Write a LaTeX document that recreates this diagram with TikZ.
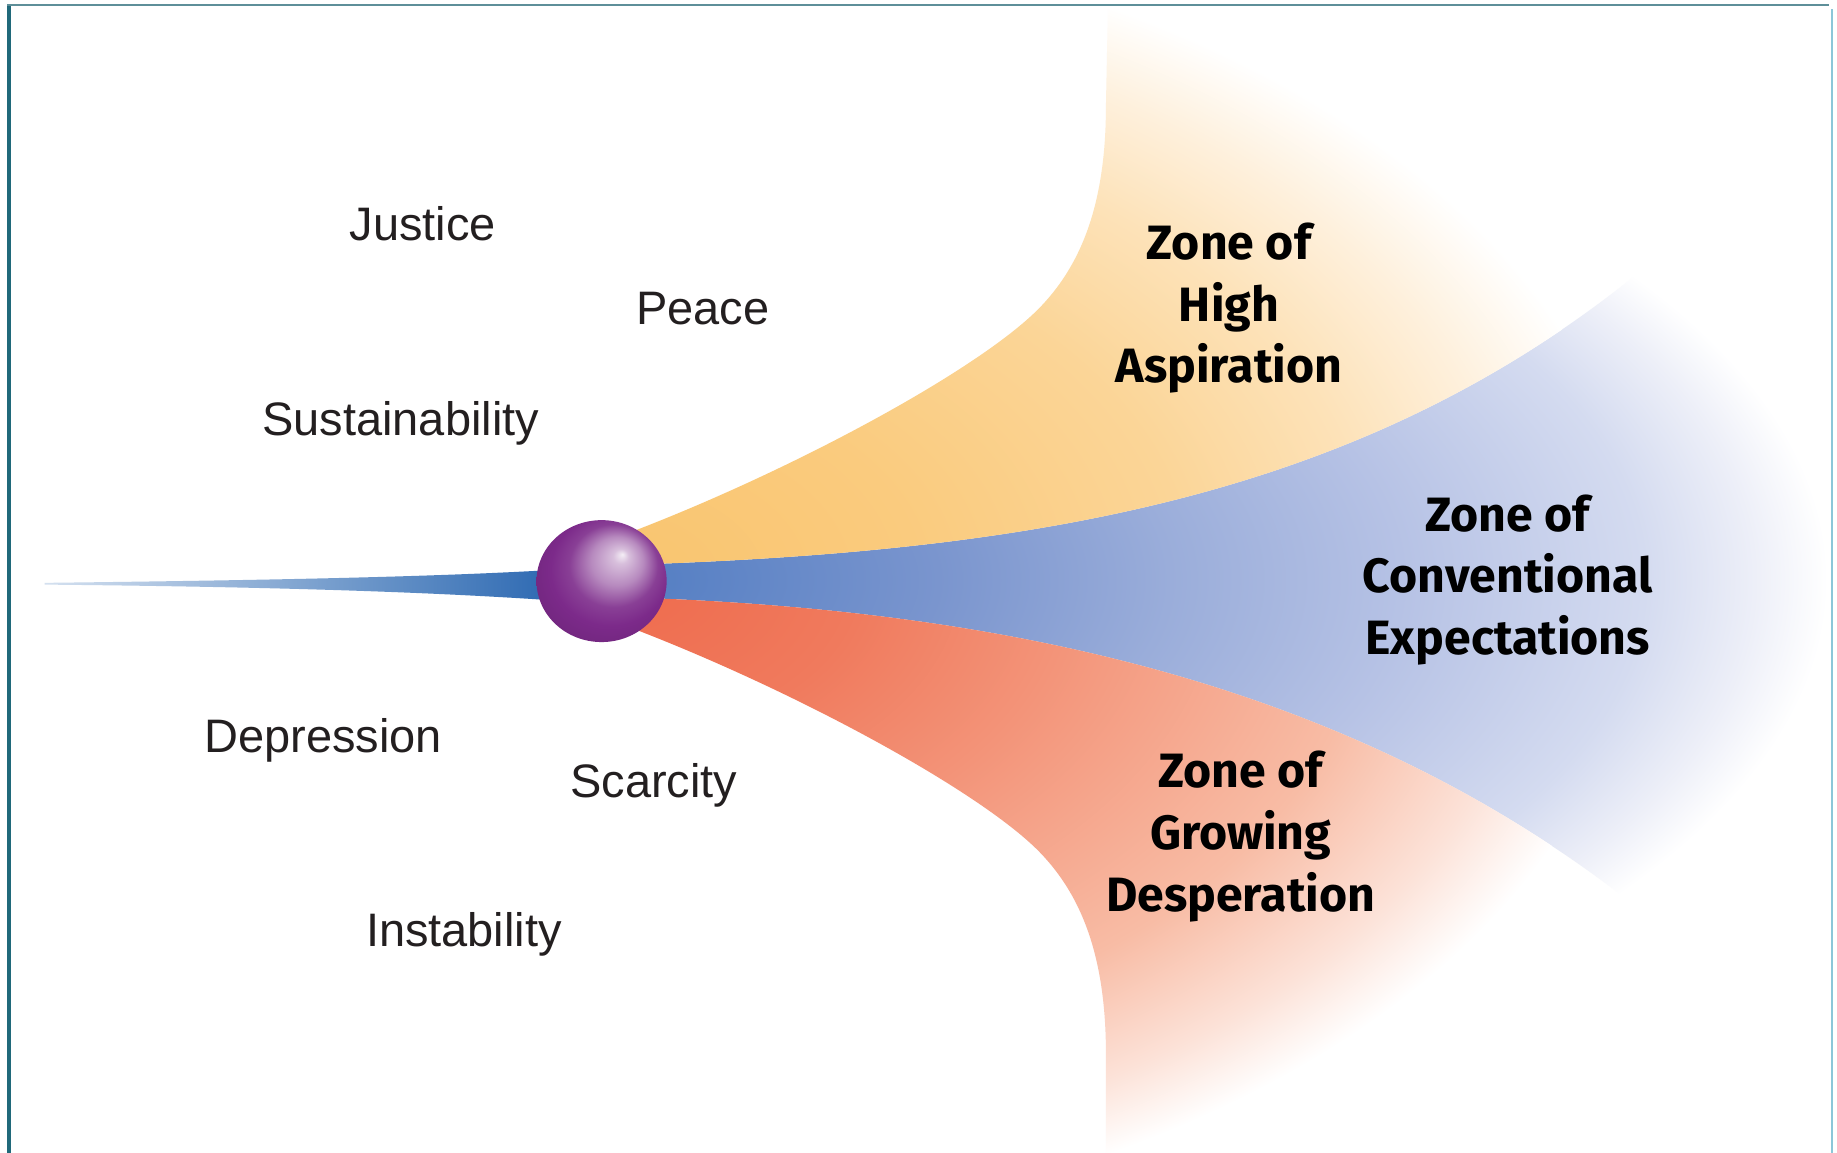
\documentclass[tikz,border=0pt]{standalone}
\usepackage{fontspec}
\setmainfont{Liberation Sans}
\newfontfamily\zonefont{Fira Sans}
\usetikzlibrary{shapes.geometric}

\definecolor{frameTeal}{HTML}{20697A}
\definecolor{frameTop}{HTML}{5E8F99}
\definecolor{frameRight}{HTML}{8CC6D8}
\definecolor{wordGray}{HTML}{231F20}
\definecolor{tailBlue}{HTML}{2A67B1}
\definecolor{orbPurple}{HTML}{7C2A8A}

% fan shadings, strong near the ball and white at the rim (rim = 25bp)
\pgfdeclareradialshading{fanYellow}{\pgfpoint{0bp}{0bp}}{%
  color(0bp)=(rgb,255:red,249;green,196;blue,110); color(7.5bp)=(rgb,255:red,250;green,203;blue,126);
  color(14bp)=(rgb,255:red,251;green,213;blue,151); color(18.5bp)=(rgb,255:red,253;green,226;blue,184);
  color(22bp)=(rgb,255:red,254;green,240;blue,220); color(25bp)=(white); color(50bp)=(white)}
\pgfdeclareradialshading{fanBlue}{\pgfpoint{0bp}{0bp}}{%
  color(0bp)=(rgb,255:red,80;green,124;blue,194); color(6.75bp)=(rgb,255:red,122;green,149;blue,206);
  color(11.5bp)=(rgb,255:red,154;green,173;blue,218); color(16.25bp)=(rgb,255:red,182;green,194;blue,229);
  color(21.25bp)=(rgb,255:red,212;green,219;blue,240); color(23.5bp)=(rgb,255:red,237;green,239;blue,248);
  color(25bp)=(white); color(50bp)=(white)}
\pgfdeclareradialshading{fanRed}{\pgfpoint{0bp}{0bp}}{%
  color(0bp)=(rgb,255:red,238;green,106;blue,76); color(6bp)=(rgb,255:red,240;green,122;blue,93);
  color(11bp)=(rgb,255:red,243;green,147;blue,120); color(18.5bp)=(rgb,255:red,248;green,188;blue,165);
  color(22.5bp)=(rgb,255:red,252;green,226;blue,216); color(25bp)=(white); color(50bp)=(white)}
% the ball, lit from the upper right
\pgfdeclareradialshading{orb}{\pgfpoint{8bp}{11bp}}{%
  color(0bp)=(white!92!orbPurple); color(3bp)=(white!70!orbPurple);
  color(10bp)=(orbPurple!55!white); color(17bp)=(orbPurple!90!white);
  color(23bp)=(orbPurple); color(40bp)=(orbPurple!80!black)}

\begin{document}
\begin{tikzpicture}[x=0.01cm, y=-0.01cm,
    word/.style={font=\fontsize{11.4}{13}\selectfont, text=wordGray, anchor=base, inner sep=0pt},
    zone/.style={font=\zonefont\bfseries\fontsize{11.7}{15}\selectfont, align=center, inner sep=0pt}]

  \useasboundingbox (0,0) rectangle (1568,984);
  \fill[white] (0,0) rectangle (1568,984);

  % Ellipse of each fan shading
  \def\cx{520}
  \def\cy{495}

  % Conventional expectations
  \begin{scope}
    \clip (500,482) -- (540,482) .. controls (900,470) and (1180,420) .. (1420,215) -- (1560,90)
      -- (1700,0) -- (1700,1000) -- (1560,920)
      -- (1440,810) .. controls (1200,600) and (900,522) .. (540,510) -- (500,510) -- cycle;
    \shade[shading=fanBlue] (\cx,\cy) ellipse [x radius=1040, y radius=480];
  \end{scope}

  % High aspiration
  \begin{scope}
    \clip (500,462) -- (539,454) .. controls (680,400) and (840,313) .. (889,261)
      .. controls (925,223) and (944,170) .. (944,90) -- (946,-10)
      -- (1700,-10) -- (1700,0) -- (1560,90) -- (1420,215)
      .. controls (1180,420) and (900,470) .. (540,482) -- (500,482) -- cycle;
    \shade[shading=fanYellow] (\cx,\cy) ellipse [x radius=880, y radius=560];
  \end{scope}

  % Growing desperation
  \begin{scope}
    \clip (500,510) -- (540,510) .. controls (900,522) and (1200,600) .. (1440,810) -- (1560,920)
      -- (1700,1000) -- (944,1000) -- (944,900)
      .. controls (944,820) and (925,767) .. (889,729)
      .. controls (840,677) and (680,590) .. (539,536) -- (500,530) -- cycle;
    \shade[shading=fanRed] (\cx,\cy) ellipse [x radius=880, y radius=560];
  \end{scope}

  % Tail coming in from the left
  \shade[left color=tailBlue!20, middle color=tailBlue!75, right color=tailBlue]
    (38,497.5) .. controls (250,495) and (380,492) .. (480,486)
    -- (480,513) .. controls (380,506) and (250,501) .. (38,499) -- cycle;

  % The ball
  \node[ellipse, minimum width=1.11cm, minimum height=1.04cm, inner sep=0pt, shading=orb] (ball) at (513.5,496) {};

  % Words on the left
  \foreach \txt/\px/\py in {Justice/361/205, Peace/600/277, Sustainability/342/372,
                            Depression/276/642, Scarcity/558/681, Instability/396/808}
    \node[word] (\txt) at (\px,\py) {\txt};

  % Zone labels
  \node[zone] (zoneHigh) at (1049,263) {Zone of\\High\\Aspiration};
  \node[zone] (zoneConv) at (1287,495) {Zone of\\Conventional\\Expectations};
  \node[zone] (zoneDesp) at (1059,714) {Zone of\\Growing\\Desperation};

  % Frame
  \draw[frameTeal, line width=1pt] (7.7,4) -- (7.7,984);
  \draw[frameTop, line width=0.5pt] (6,4.3) -- (1561,4.3);
  \draw[frameRight, line width=0.4pt] (1564,8) -- (1564,984);
\end{tikzpicture}
\end{document}
